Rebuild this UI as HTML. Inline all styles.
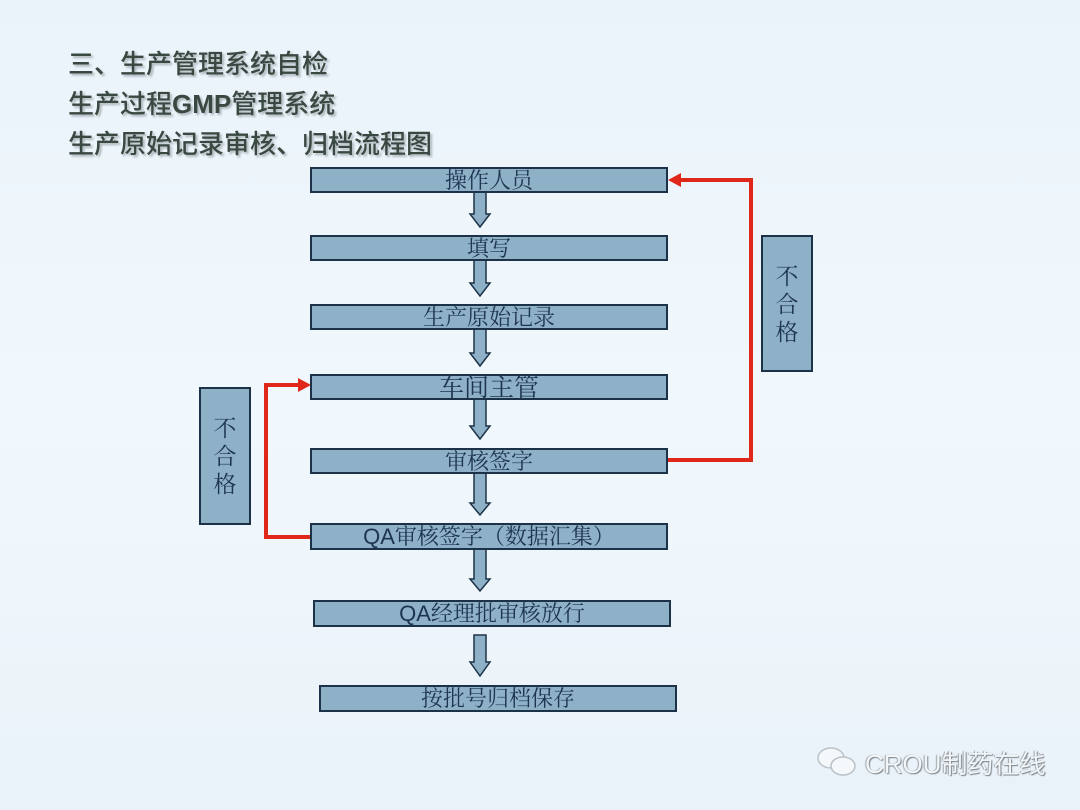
<!DOCTYPE html>
<html><head><meta charset="utf-8"><style>
body{margin:0;width:1080px;height:810px;background:linear-gradient(180deg,#eaf3fa,#f1f8fd 50%,#eaf2f9);position:relative;overflow:hidden;font-family:"Liberation Sans","Noto Sans CJK SC",sans-serif}
.t{position:absolute;left:68px;font-size:26px;color:#3a4842;text-shadow:2px 2px 2px #a9b3b8;font-weight:500;letter-spacing:0px;white-space:nowrap}
.b{position:absolute;background:#8fb1c8;border:2px solid #1c3248;box-sizing:border-box;color:#1e3550;font-size:22px;text-align:center;line-height:24px;font-family:"Liberation Sans","Noto Serif CJK SC",serif}
.v{position:absolute;background:#8fb1c8;border:2px solid #1c3248;box-sizing:border-box;color:#1e3550;font-size:23px;line-height:28px;text-align:center;font-family:"Liberation Sans","Noto Serif CJK SC",serif;display:flex;align-items:center;justify-content:center}
</style></head><body>
<div class="t" style="top:44px">三、生产管理系统自检</div>
<div class="t" style="top:84px">生产过程<b>GMP</b>管理系统</div>
<div class="t" style="top:124px">生产原始记录审核、归档流程图</div>
<svg width="1080" height="810" style="position:absolute;left:0;top:0">
<g fill="#8fb1c8" stroke="#1c3248" stroke-width="1.5">
<path d="M474,192 V214 H470 L480,227 L490,214 H486 V192 Z"/>
<path d="M474,260 V283 H470 L480,296 L490,283 H486 V260 Z"/>
<path d="M474,329 V353 H470 L480,366 L490,353 H486 V329 Z"/>
<path d="M474,399 V426 H470 L480,439 L490,426 H486 V399 Z"/>
<path d="M474,473 V503 H470 L480,515 L490,503 H486 V473 Z"/>
<path d="M474,549 V579 H470 L480,591 L490,579 H486 V549 Z"/>
<path d="M474,635 V662 H470 L480,676 L490,662 H486 V635 Z"/>
</g>
<g fill="none" stroke="#e0281a" stroke-width="4">
<polyline points="310,537 266,537 266,385 300,385"/>
<polyline points="667,460 751,460 751,180 680,180"/>
</g>
<polygon points="311,385 298,378 298,392" fill="#e0281a"/>
<polygon points="668,180 681,173 681,187" fill="#e0281a"/>
</svg>
<div class="b" style="left:310px;top:167px;width:358px;height:26px">操作人员</div>
<div class="b" style="left:310px;top:235px;width:358px;height:26px">填写</div>
<div class="b" style="left:310px;top:304px;width:358px;height:26px">生产原始记录</div>
<div class="b" style="left:310px;top:374px;width:358px;height:26px;font-size:25px;line-height:25px">车间主管</div>
<div class="b" style="left:310px;top:448px;width:358px;height:26px">审核签字</div>
<div class="b" style="left:310px;top:523px;width:358px;height:27px">QA审核签字（数据汇集）</div>
<div class="b" style="left:313px;top:600px;width:358px;height:27px">QA经理批审核放行</div>
<div class="b" style="left:319px;top:685px;width:358px;height:27px">按批号归档保存</div>
<div class="v" style="left:199px;top:387px;width:52px;height:138px">不<br>合<br>格</div>
<div class="v" style="left:761px;top:235px;width:52px;height:137px">不<br>合<br>格</div>
<div style="position:absolute;left:815px;top:745px;width:44px;height:34px;">
<svg width="44" height="34"><g fill="#f4f8fb" stroke="#b8c2c8" stroke-width="1.5"><ellipse cx="16" cy="13" rx="13" ry="10"/><ellipse cx="28" cy="21" rx="12" ry="9"/></g></svg></div>
<div style="position:absolute;left:865px;top:744px;font-size:26px;color:#f3f6f8;text-shadow:1px 1px 1px #7a8288,-1px 0 1px #9aa2a8">CROU制药在线</div>
</body></html>
